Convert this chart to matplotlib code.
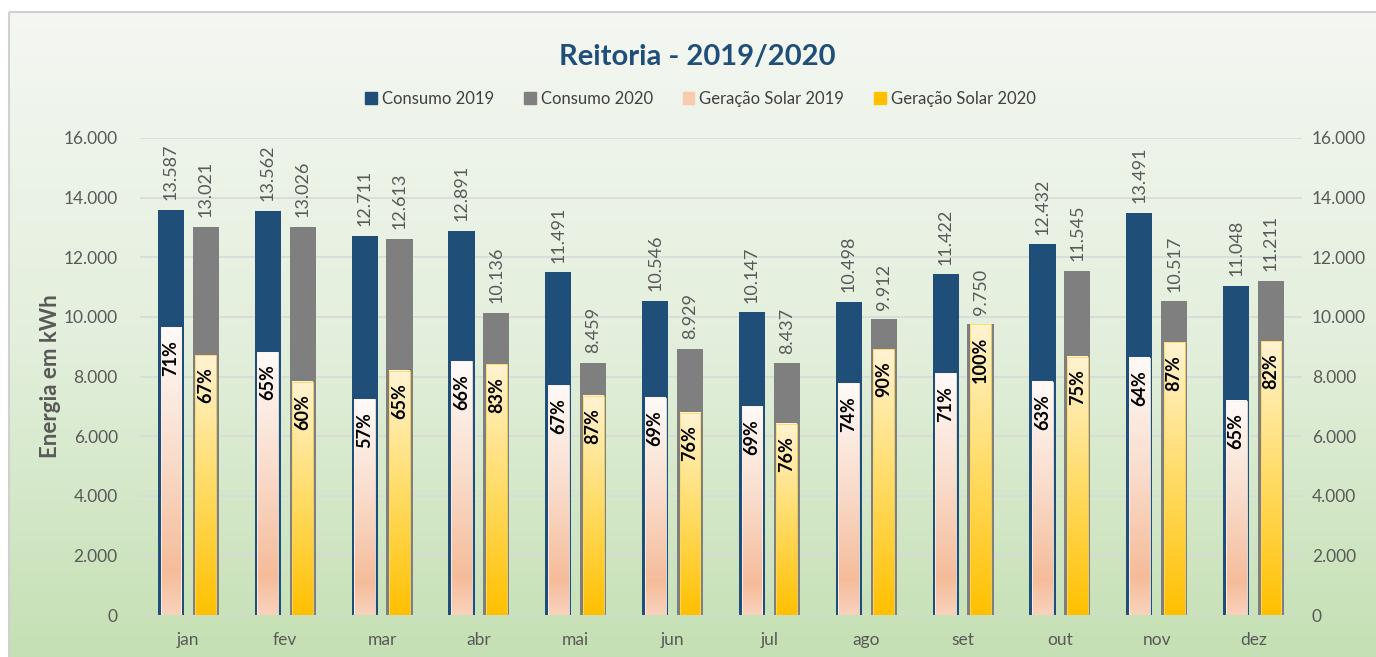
import numpy as np
import matplotlib
matplotlib.use('Agg')
import matplotlib.pyplot as plt
from matplotlib.colors import LinearSegmentedColormap
from matplotlib.patches import Rectangle, Patch
from matplotlib.ticker import FuncFormatter

plt.rcParams['font.family'] = ['Lato', 'DejaVu Sans']

# dados (kWh)
meses = ['jan', 'fev', 'mar', 'abr', 'mai', 'jun', 'jul', 'ago', 'set', 'out', 'nov', 'dez']
consumo_2019 = [13587, 13562, 12711, 12891, 11491, 10546, 10147, 10498, 11422, 12432, 13491, 11048]
consumo_2020 = [13021, 13026, 12613, 10136, 8459, 8929, 8437, 9912, 9750, 11545, 10517, 11211]
solar_2019 = [9650, 8820, 7240, 8510, 7700, 7280, 7000, 7770, 8110, 7830, 8630, 7180]
solar_2020 = [8720, 7820, 8200, 8410, 7360, 6790, 6410, 8920, 9750, 8660, 9150, 9190]
pct_2019 = ['71%', '65%', '57%', '66%', '67%', '69%', '69%', '74%', '71%', '63%', '64%', '65%']
pct_2020 = ['67%', '60%', '65%', '83%', '87%', '76%', '76%', '90%', '100%', '75%', '87%', '82%']

W, H = 1376, 657
fig = plt.figure(figsize=(W / 100, H / 100), dpi=100)
fig.patch.set_facecolor('white')

def fmt(v, pos=None):
    return f'{v:,.0f}'.replace(',', '.')

# fundo com gradiente verde
bg = fig.add_axes([0, 0, 1, 1], zorder=-5)
bg.set_xlim(0, W)
bg.set_ylim(H, 0)
bg.axis('off')
cmap_bg = LinearSegmentedColormap.from_list('bg', ['#f4f7f2', '#e3efdc', '#c3dfb1'])
grad = np.linspace(0, 1, 256).reshape(-1, 1)
frame = Rectangle((9, 12), W + 20, H + 20, facecolor='none', edgecolor='#d0d0d0', lw=1.5)
bg.add_patch(frame)
im = bg.imshow(grad, cmap=cmap_bg, extent=[9, W + 20, H + 20, 12], aspect='auto', origin='upper')
im.set_clip_path(frame)

ax = fig.add_axes([140 / W, (H - 615) / H, 1162 / W, 477 / H])
ax.patch.set_alpha(0)

x = np.arange(len(meses))
bw = 0.27
sw = 0.215
off = 0.18

cmap19 = LinearSegmentedColormap.from_list('s19', [(0, '#f9d2bc'), (0.15, '#f5bc9a'), (0.55, '#f9dccb'), (1, '#fffaf8')])
cmap20 = LinearSegmentedColormap.from_list('s20', [(0, '#ffc000'), (0.5, '#ffdc66'), (1, '#fff3d2')])

ax.bar(x - off, consumo_2019, bw, color='#1f4e79', zorder=2)
ax.bar(x + off, consumo_2020, bw, color='#7f7f7f', zorder=2)

for xs, vals, cm, ec in [(x - off, solar_2019, cmap19, '#fdf0ea'), (x + off, solar_2020, cmap20, '#ffd75e')]:
    for xi, v in zip(xs, vals):
        r = Rectangle((xi - sw / 2, 0), sw, v, facecolor='none', edgecolor=ec, lw=0.6, zorder=4)
        ax.add_patch(r)
        ax.imshow(grad, cmap=cm, extent=[xi - sw / 2, xi + sw / 2, 0, v], aspect='auto', origin='lower', zorder=3)

# rótulos de consumo
for xs, vals in [(x - off, consumo_2019), (x + off, consumo_2020)]:
    for xi, v in zip(xs, vals):
        ax.annotate(fmt(v), (xi, v), xytext=(0, 7), textcoords='offset points', rotation=90,
                    ha='center', va='bottom', fontsize=13, color='#595959', zorder=5)

# percentuais de geração
for xs, vals, labs in [(x - off, solar_2019, pct_2019), (x + off, solar_2020, pct_2020)]:
    for xi, v, lab in zip(xs, vals, labs):
        ax.annotate(lab, (xi, v), xytext=(0, -9), textcoords='offset points', rotation=90,
                    ha='center', va='top', fontsize=13, fontweight='bold', color='black', zorder=5)

ax.set_xlim(-0.5, len(meses) - 0.5)
ax.set_ylim(0, 16000)
ax.set_yticks(np.arange(0, 16001, 2000))
ax.yaxis.set_major_formatter(FuncFormatter(fmt))
ax.set_xticks(x)
ax.set_xticklabels(meses)
ax.grid(axis='y', color='#d9d9d9', lw=1.2, zorder=0)
ax.set_axisbelow(True)
for s in ax.spines.values():
    s.set_visible(False)
ax.axhline(0, color='#d9d9d9', lw=1.5, zorder=1)
ax.tick_params(axis='both', length=0, labelsize=12.5, labelcolor='#595959')
ax.tick_params(axis='y', pad=16)
ax.tick_params(axis='x', pad=12)

ax2 = ax.twinx()
ax2.set_ylim(0, 16000)
ax2.set_yticks(np.arange(0, 16001, 2000))
ax2.yaxis.set_major_formatter(FuncFormatter(fmt))
ax2.tick_params(axis='y', length=0, labelsize=12.5, labelcolor='#595959', pad=7)
for s in ax2.spines.values():
    s.set_visible(False)

ax.set_ylabel('Energia em kWh', fontsize=16, fontweight='bold', color='#595959', labelpad=2)

fig.text(0.507, 1 - 57 / H, 'Reitoria - 2019/2020', ha='center', va='center',
         fontsize=21, fontweight='bold', color='#1f4e79')

handles = [Patch(color='#1f4e79'), Patch(color='#7f7f7f'),
           Patch(color='#f8cbad'), Patch(color='#ffc000')]
labels = ['Consumo 2019', 'Consumo 2020', 'Geração Solar 2019', 'Geração Solar 2020']
leg = fig.legend(handles, labels, loc='center', bbox_to_anchor=(0.509, 1 - 99 / H), ncol=4,
                 frameon=False, fontsize=12, handlelength=0.7, handleheight=0.7,
                 handletextpad=0.3, columnspacing=1.8)
for t in leg.get_texts():
    t.set_color('#404040')

fig.savefig('out.png', dpi=100)
